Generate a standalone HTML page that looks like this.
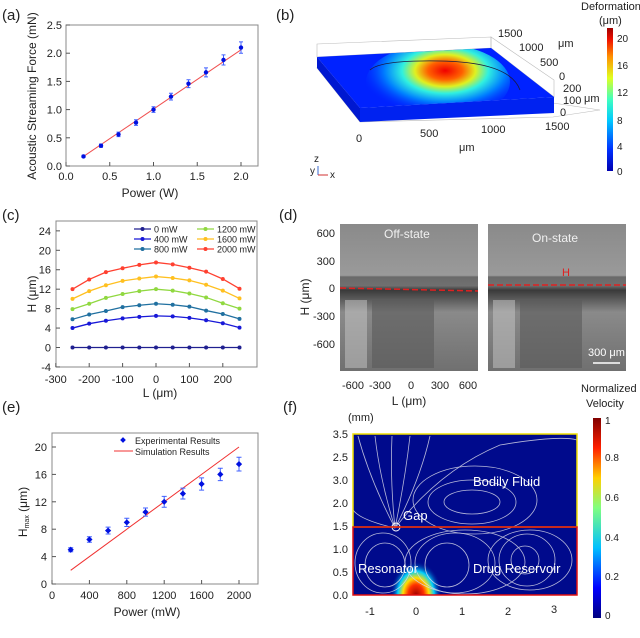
<!DOCTYPE html>
<html><head><meta charset="utf-8"><style>
body{margin:0;background:#fff;width:640px;height:638px;overflow:hidden;font-family:"Liberation Sans",sans-serif}
svg{position:absolute;left:0;top:0}
text{font-family:"Liberation Sans",sans-serif}
</style></head><body>
<svg id="s" width="640" height="638" viewBox="0 0 640 638">
<defs>
<clipPath id="fclip"><rect x="353" y="434" width="224" height="161"/></clipPath>
<clipPath id="bclip"><polygon points="317,57 491,48 554,97 360,108"/></clipPath>
<linearGradient id="jet" x1="0" y1="1" x2="0" y2="0">
<stop offset="0" stop-color="#0000b0"/><stop offset="0.15" stop-color="#0030ff"/><stop offset="0.35" stop-color="#00c8ff"/><stop offset="0.5" stop-color="#40ffc0"/><stop offset="0.65" stop-color="#e0ff20"/><stop offset="0.8" stop-color="#ff9000"/><stop offset="0.92" stop-color="#f01000"/><stop offset="1" stop-color="#a00000"/></linearGradient>
<linearGradient id="jet2" x1="0" y1="1" x2="0" y2="0">
<stop offset="0" stop-color="#000080"/><stop offset="0.15" stop-color="#0000ff"/><stop offset="0.35" stop-color="#00c0ff"/><stop offset="0.55" stop-color="#80ff80"/><stop offset="0.7" stop-color="#ffd000"/><stop offset="0.85" stop-color="#ff2000"/><stop offset="1" stop-color="#800000"/></linearGradient>
<radialGradient id="hot" cx="0.55" cy="0.35" r="0.6">
<stop offset="0" stop-color="#f00000"/><stop offset="0.2" stop-color="#ff6000"/><stop offset="0.35" stop-color="#e0f020"/><stop offset="0.5" stop-color="#30f0e0"/><stop offset="0.7" stop-color="#0080ff"/><stop offset="1" stop-color="#0020ff" stop-opacity="0"/></radialGradient>
<radialGradient id="res" cx="0.5" cy="0.5" r="0.5">
<stop offset="0" stop-color="#a00000"/><stop offset="0.3" stop-color="#ff3000"/><stop offset="0.5" stop-color="#ffe000"/><stop offset="0.7" stop-color="#00d0ff"/><stop offset="1" stop-color="#000a90" stop-opacity="0"/></radialGradient>
<linearGradient id="img" x1="0" y1="0" x2="0" y2="1">
<stop offset="0" stop-color="#8a8a8a"/><stop offset="0.35" stop-color="#9a9a9a"/><stop offset="0.36" stop-color="#6a6a6a"/><stop offset="0.42" stop-color="#707070"/><stop offset="0.45" stop-color="#3a3a3a"/><stop offset="0.6" stop-color="#8a8a8a"/><stop offset="1" stop-color="#707070"/></linearGradient>
</defs>
<g id="labels" font-size="15" fill="#222">
<text x="2" y="20">(a)</text>
<text x="276" y="20">(b)</text>
<text x="2" y="220">(c)</text>
<text x="279" y="220">(d)</text>
<text x="2" y="412">(e)</text>
<text x="283" y="412">(f)</text>
</g>

<!-- panel b -->
<g>
<polygon points="317,44 491,37 491,48 317,57" fill="none" stroke="#bbb" stroke-width="0.6"/>
<polygon points="491,37 554,80 554,97 491,48" fill="none" stroke="#bbb" stroke-width="0.6"/>
<polygon points="317,68 360,122 553,117 600,110" fill="none" stroke="#bbb" stroke-width="0.6"/>
<polygon points="317,57 491,48 554,97 360,108" fill="#0022ff"/>
<polygon points="360,108 554,97 554,113 360,122" fill="#0022f0"/>
<polygon points="317,57 360,108 360,122 317,68" fill="#0018d0"/>
<g clip-path="url(#bclip)">
<ellipse cx="438" cy="82" rx="72" ry="38" fill="url(#hot)"/>
</g>
<path d="M370,70 Q380,60 440,61 Q510,62 520,90" fill="none" stroke="#1a1a40" stroke-width="0.8"/>
<g font-size="11" fill="#222">
<text x="498" y="37">1500</text><text x="519" y="51">1000</text><text x="540" y="66">500</text><text x="559" y="80">0</text>
<text x="563" y="92">200</text><text x="563" y="104">100</text><text x="560" y="116">0</text>
<text x="558" y="47">μm</text><text x="584" y="102">μm</text>
<text x="356" y="142">0</text><text x="420" y="137">500</text><text x="481" y="133">1000</text><text x="545" y="130">1500</text>
<text x="459" y="151">μm</text>
<text x="314" y="162" font-size="10">z</text><text x="310" y="174" font-size="10">y</text><text x="330" y="178" font-size="10">x</text>
<text x="581" y="10" font-size="11">Deformation</text><text x="599" y="24" font-size="11">(μm)</text>
</g>
<line x1="318" y1="166" x2="318" y2="175" stroke="#3a6ad0"/><line x1="318" y1="175" x2="328" y2="175" stroke="#d03030"/>
<rect x="607" y="28" width="6" height="143" fill="url(#jet)"/>
<g font-size="10" fill="#222"><text x="617" y="42">20</text><text x="617" y="69">16</text><text x="617" y="96">12</text><text x="617" y="124">8</text><text x="617" y="150">4</text><text x="617" y="175">0</text></g>
</g>

<!-- panel d -->
<g>
<rect x="340" y="224" width="138" height="147" fill="url(#img)"/>
<rect x="488" y="224" width="138" height="147" fill="url(#img)"/>
<g fill="#5a5a5a" opacity="0.6"><rect x="372" y="300" width="62" height="68"/><rect x="520" y="300" width="62" height="68"/></g>
<g fill="#c8c8c8" opacity="0.5"><rect x="345" y="300" width="22" height="68"/><rect x="493" y="300" width="22" height="68"/></g>
<line x1="340" y1="288" x2="478" y2="291" stroke="#e02020" stroke-width="1.5" stroke-dasharray="6,3"/>
<line x1="488" y1="285" x2="626" y2="285" stroke="#e02020" stroke-width="1.5" stroke-dasharray="6,3"/>
<text x="562" y="276" font-size="11" fill="#e02020">H</text>
<g font-size="12" fill="#f0f0f0"><text x="384" y="238">Off-state</text><text x="532" y="242">On-state</text></g>
<text x="588" y="356" font-size="11" fill="#fff" font-family="Liberation Serif">300 μm</text>
<line x1="593" y1="363" x2="620" y2="363" stroke="#fff" stroke-width="1.5"/>
<g font-size="11" fill="#222" text-anchor="end"><text x="335" y="237">600</text><text x="335" y="265">300</text><text x="335" y="292">0</text><text x="335" y="320">-300</text><text x="335" y="348">-600</text></g>
<g font-size="11" fill="#222" text-anchor="middle"><text x="353" y="389">-600</text><text x="380" y="389">-300</text><text x="411" y="389">0</text><text x="440" y="389">300</text><text x="468" y="389">600</text>
<text x="409" y="405" font-size="12">L (μm)</text>
<text transform="translate(309,297) rotate(-90)" font-size="12">H (μm)</text></g>
</g>

<!-- panel f -->
<g>
<rect x="353" y="434" width="224" height="161" fill="#000a8c"/>
<g clip-path="url(#fclip)">
<ellipse cx="416" cy="595" rx="26" ry="34" fill="url(#res)"/>
<g fill="none" stroke="#d8d8e8" stroke-width="0.8" opacity="0.85">
<path d="M395,528 Q370,480 358,436"/><path d="M395,528 Q380,480 375,436"/><path d="M395,528 Q390,480 392,436"/><path d="M395,528 Q405,480 410,436"/><path d="M395,528 Q420,480 430,436"/>
<path d="M395,528 Q360,520 353,510"/><path d="M395,528 Q440,470 500,445 Q560,435 577,440"/>
<ellipse cx="472" cy="502" rx="28" ry="12"/><ellipse cx="472" cy="502" rx="44" ry="22"/><ellipse cx="475" cy="500" rx="62" ry="34"/>
<ellipse cx="525" cy="560" rx="14" ry="14"/><ellipse cx="527" cy="560" rx="28" ry="26"/><ellipse cx="530" cy="560" rx="42" ry="30"/>
<ellipse cx="385" cy="565" rx="20" ry="22"/><ellipse cx="383" cy="563" rx="28" ry="30"/><ellipse cx="447" cy="565" rx="22" ry="22"/><ellipse cx="455" cy="563" rx="40" ry="30"/><ellipse cx="465" cy="562" rx="60" ry="32"/>
</g>
</g>
<circle cx="396" cy="527" r="4" fill="none" stroke="#fff"/>
<rect x="353" y="434" width="224" height="93" fill="none" stroke="#f0e000" stroke-width="1.5"/>
<rect x="353" y="527" width="224" height="68" fill="none" stroke="#e01010" stroke-width="1.5"/>
<g fill="#fff" font-size="13"><text x="473" y="486">Bodily Fluid</text><text x="403" y="520">Gap</text><text x="358" y="573">Resonator</text><text x="473" y="573">Drug Reservoir</text></g>
<g font-size="11" fill="#222" text-anchor="end"><text x="348" y="438">3.5</text><text x="348" y="461">2.5</text><text x="348" y="484">3.0</text><text x="348" y="507">2.0</text><text x="348" y="530">1.5</text><text x="348" y="553">1.0</text><text x="348" y="576">0.5</text><text x="348" y="599">0.0</text></g>
<text x="348" y="421" font-size="11" fill="#222">(mm)</text>
<g font-size="11" fill="#222" text-anchor="middle"><text x="370" y="615">-1</text><text x="416" y="615">0</text><text x="462" y="615">1</text><text x="508" y="615">2</text><text x="554" y="613">3</text></g>
<text x="581" y="392" font-size="11" fill="#222">Normalized</text><text x="586" y="407" font-size="11" fill="#222">Velocity</text>
<rect x="593" y="418" width="8" height="200" fill="url(#jet2)"/>
<g font-size="10" fill="#222"><text x="605" y="424">1</text><text x="605" y="461">0.8</text><text x="605" y="501">0.6</text><text x="605" y="541">0.4</text><text x="605" y="580">0.2</text><text x="605" y="619">0</text></g>
</g>
<g id="charts"></g>
</svg>
<script>
const aX=[0.2,0.4,0.6,0.8,1.0,1.2,1.4,1.6,1.8,2.0];
const aY=[0.17,0.36,0.56,0.77,1.00,1.23,1.46,1.66,1.88,2.10];
const aErr=[0.02,0.03,0.04,0.05,0.05,0.06,0.07,0.08,0.09,0.1];
const aXTicks=["0.0","0.5","1.0","1.5","2.0"];
const aYTicks=["0.0","0.5","1.0","1.5","2.0","2.5"];
const cL=[-250,-200,-150,-100,-50,0,50,100,150,200,250];
const cNames=["0 mW","400 mW","800 mW","1200 mW","1600 mW","2000 mW"];
const c0=[0,0,0,0,0,0,0,0,0,0,0];
const c400=[4.0,4.9,5.5,6.0,6.3,6.5,6.4,6.1,5.6,5.0,4.1];
const c800=[5.8,6.8,7.5,8.3,8.7,9.0,8.8,8.4,7.6,6.9,5.9];
const c1200=[7.9,9.0,10.2,11.0,11.6,12.0,11.7,11.1,10.3,9.1,8.0];
const c1600=[10.0,11.6,12.8,13.7,14.2,14.6,14.3,13.8,12.9,11.7,10.1];
const c2000=[12.0,14.0,15.5,16.3,17.0,17.5,17.1,16.4,15.6,14.1,12.1];
const cXTicks=[-300,-200,-100,0,100,200];
const cYTicks=[-4,0,4,8,12,16,20,24];
const eP=[200,400,600,800,1000,1200,1400,1600,1800,2000];
const eH=[5.0,6.5,7.8,9.0,10.5,12.0,13.2,14.6,16.0,17.5];
const eErr=[0.3,0.4,0.5,0.6,0.6,0.8,0.8,0.9,0.9,1.0];
const simP=[200,2000];
const simH=[2,20];
const eXTicks=[0,400,800,1200,1600,2000];
const eYTicks=[0,4,8,12,16,20];

const NS="http://www.w3.org/2000/svg";
const root=document.getElementById('charts');
function mk(t,a,p){const e=document.createElementNS(NS,t);for(const k in a)e.setAttribute(k,a[k]);(p||root).appendChild(e);return e;}
function txt(x,y,s,a,p){const e=mk('text',Object.assign({x:x,y:y,'font-size':11,fill:'#222'},a),p);e.textContent=s;return e;}
function frame(g,L,R,T,B){mk('rect',{x:L,y:T,width:R-L,height:B-T,fill:'none',stroke:'#888','stroke-width':1},g);}

// Panel a
const ga=mk('g',{});


const ax=v=>66+v*87.5, ay=v=>166-v*56.4;
frame(ga,66,258,25,166);
aXTicks.forEach(t=>{const v=parseFloat(t);mk('line',{x1:ax(v),y1:166,x2:ax(v),y2:162,stroke:'#555'},ga);txt(ax(v),180,t,{'text-anchor':'middle'},ga);});
aYTicks.forEach(t=>{const v=parseFloat(t);mk('line',{x1:66,y1:ay(v),x2:70,y2:ay(v),stroke:'#555'},ga);txt(62,ay(v)+4,t,{'text-anchor':'end'},ga);});
txt(150,197,'Power (W)',{'text-anchor':'middle','font-size':12},ga);
txt(0,0,'Acoustic Streaming Force (mN)',{'text-anchor':'middle','font-size':12,transform:'translate(36,96) rotate(-90)'},ga);
const fit=mk('line',{x1:ax(0.2),y1:ay(0.17),x2:ax(2.0),y2:ay(2.06),stroke:'#f05050','stroke-width':1},ga);


aX.forEach((x,i)=>{const y=aY[i];
const eb=mk('path',{d:`M${ax(x)-2},${ay(y+aErr[i])}h4M${ax(x)},${ay(y+aErr[i])}V${ay(y-aErr[i])}M${ax(x)-2},${ay(y-aErr[i])}h4`,stroke:'#4060ff',fill:'none'},ga);


const p=mk('circle',{cx:ax(x),cy:ay(y),r:2.2,fill:'#0010e0'},ga);

});

// Panel c
const gc=mk('g',{});


const cx=v=>156+v*0.334, cy=v=>347.5-v*4.86;
frame(gc,56,257,221,367);
cXTicks.forEach(v=>{mk('line',{x1:cx(v),y1:367,x2:cx(v),y2:363,stroke:'#555'},gc);txt(cx(v),383,String(v),{'text-anchor':'middle'},gc);});
cYTicks.forEach(v=>{mk('line',{x1:56,y1:cy(v),x2:60,y2:cy(v),stroke:'#555'},gc);txt(51,cy(v)+4,String(v),{'text-anchor':'end'},gc);});
txt(160,397,'L (μm)',{'text-anchor':'middle','font-size':12},gc);
txt(0,0,'H (μm)',{'text-anchor':'middle','font-size':12,transform:'translate(36,294) rotate(-90)'},gc);
const cSeries=[c0,c400,c800,c1200,c1600,c2000];
const cCol=['#202090','#1818d8','#2070a0','#90d840','#ffc020','#ff4030'];
cSeries.forEach((s,k)=>{
const pl=mk('polyline',{points:s.map((v,i)=>cx(cL[i])+','+cy(v)).join(' '),fill:'none',stroke:cCol[k],'stroke-width':1.3},gc);


s.forEach((v,i)=>{const d=mk('circle',{cx:cx(cL[i]),cy:cy(v),r:2,fill:cCol[k]},gc);

});
const lx=k<3?134:197, ly=229+(k%3)*10;
const le=mk('g',{},gc);


mk('line',{x1:lx,y1:ly,x2:lx+17,y2:ly,stroke:cCol[k],'stroke-width':1.3},le);
mk('circle',{cx:lx+8.5,cy:ly,r:2,fill:cCol[k]},le);
txt(lx+20,ly+3.5,cNames[k],{'font-size':9},le);});

// Panel e
const ge=mk('g',{});


const ex=v=>52+v*0.0935, ey=v=>584-v*6.85;
frame(ge,52,258,433,584);
eXTicks.forEach(v=>{mk('line',{x1:ex(v),y1:584,x2:ex(v),y2:580,stroke:'#555'},ge);txt(ex(v),599,String(v),{'text-anchor':'middle'},ge);});
eYTicks.forEach(v=>{mk('line',{x1:52,y1:ey(v),x2:56,y2:ey(v),stroke:'#555'},ge);txt(47,ey(v)+4,String(v),{'text-anchor':'end'},ge);});
txt(147,616,'Power (mW)',{'text-anchor':'middle','font-size':12},ge);
const yl=txt(0,0,'H',{'text-anchor':'middle','font-size':12,transform:'translate(27,512) rotate(-90)'},ge);
const sub=document.createElementNS(NS,'tspan');sub.setAttribute('font-size','7');sub.setAttribute('dy','2');sub.textContent='max';yl.appendChild(sub);
const rest=document.createElementNS(NS,'tspan');rest.setAttribute('dy','-2');rest.textContent=' (μm)';yl.appendChild(rest);
const sim=mk('line',{x1:ex(simP[0]),y1:ey(simH[0]),x2:ex(simP[1]),y2:ey(simH[1]),stroke:'#f03030','stroke-width':1},ge);


eP.forEach((p,i)=>{const h=eH[i];
const eb=mk('path',{d:`M${ex(p)-2.5},${ey(h+eErr[i])}h5M${ex(p)},${ey(h+eErr[i])}V${ey(h-eErr[i])}M${ex(p)-2.5},${ey(h-eErr[i])}h5`,stroke:'#4060ff',fill:'none'},ge);


const d=mk('rect',{x:ex(p)-2.2,y:ey(h)-2.2,width:4.4,height:4.4,fill:'#0010e0',transform:`rotate(45 ${ex(p)} ${ey(h)})`},ge);

});
const le1=mk('g',{},ge);


mk('rect',{x:121,y:438,width:4,height:4,fill:'#0010e0',transform:'rotate(45 123 440)'},le1);
txt(135,444,'Experimental Results',{'font-size':9},le1);
const le2=mk('g',{},ge);


mk('line',{x1:114,y1:451,x2:133,y2:451,stroke:'#f03030'},le2);
txt(135,455,'Simulation Results',{'font-size':9},le2);
</script>
</body></html>
